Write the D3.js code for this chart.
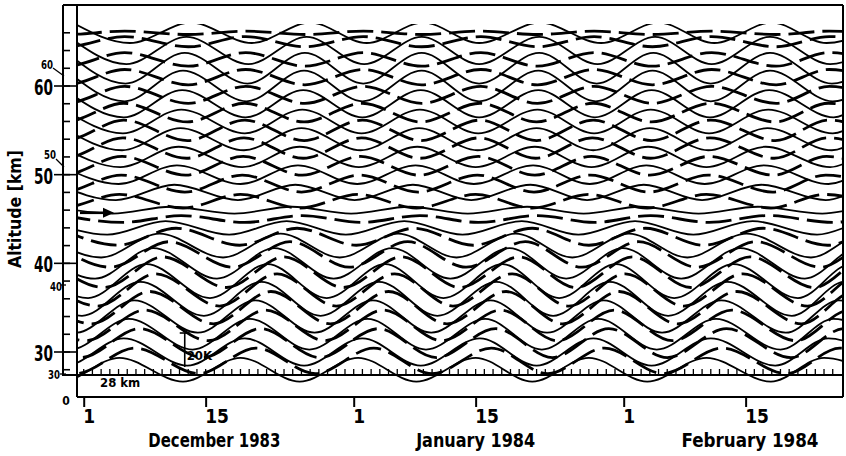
<!DOCTYPE html>
<html><head><meta charset="utf-8">
<script src="https://cdn.jsdelivr.net/npm/d3@7"></script>
<style>
body{margin:0;background:#fff}
svg{display:block}
text{font-family:"DejaVu Sans Condensed","DejaVu Sans",sans-serif;fill:#000;font-weight:bold}
</style>
</head><body>
<svg id="chart" width="846" height="456"></svg>
<script>
// ---------------- data ----------------
const solidAltitudes = [28,30,32,34,36,38,40,42,44,46,48,50,52,54,56,58,60,62,64,66];
const solidAmplitudesK = [7,8,9,9.5,10,10,9,7,4,2,4.5,5.5,6,6.5,7,8,9,9,8,6];
// days after 1 Dec 1983 of successive crests / troughs (first entry is a crest)
const solidExtremumDays = [
 [-9.3,-2.6,4.1,11.4,18.0,24.8,31.5,38.2,45.0,51.5,58.0,64.7,71.5,78.9,85.0,92.0],
 [-8.8,-2.1,4.6,11.9,18.5,25.3,32.0,38.7,45.5,52.0,58.5,65.2,72.0,79.4,85.5,92.5],
 [-8.2,-1.5,5.2,12.5,19.1,25.9,32.6,39.3,46.1,52.6,59.1,65.8,72.6,80.0,86.1,93.1],
 [-7.6,-0.9,5.8,13.1,19.7,26.5,33.2,39.9,46.7,53.2,59.7,66.4,73.2,80.6,86.7,93.7],
 [-6.9,-0.2,6.5,13.8,20.4,27.2,33.9,40.6,47.4,53.9,60.4,67.1,73.9,81.3,87.4,94.4],
 [-6.2,0.5,7.2,14.5,21.1,27.9,34.6,41.3,48.1,54.6,61.1,67.8,74.6,82.0,88.1,95.1],
 [-5.4,1.3,8.0,15.3,21.9,28.7,35.4,42.1,48.9,55.4,61.9,68.6,75.4,82.8,88.9,95.9],
 [-4.7,2.0,8.7,16.0,22.6,29.4,36.1,42.8,49.6,56.1,62.6,69.3,76.1,83.5,89.6,96.6],
 [-4.0,2.7,9.4,16.7,23.3,30.1,36.8,43.5,50.3,56.8,63.3,70.0,76.8,84.2,90.3,97.3],
 [-3.4,3.3,10.0,17.3,23.9,30.7,37.4,44.1,50.9,57.4,63.9,70.6,77.4,84.8,90.9,97.9],
 [-3.0,3.7,10.4,17.7,24.3,31.1,37.8,44.5,51.3,57.8,64.3,71.0,77.8,85.2,91.3,98.3],
 [-2.7,4.0,10.7,18.0,24.6,31.4,38.1,44.8,51.6,58.1,64.6,71.3,78.1,85.5,91.6,98.6],
 [-2.5,4.2,10.9,18.2,24.8,31.6,38.3,45.0,51.8,58.3,64.8,71.5,78.3,85.7,91.8,98.8],
 [-2.3,4.4,11.1,18.4,25.0,31.8,38.5,45.2,52.0,58.5,65.0,71.7,78.5,85.9,92.0,99.0],
 [-2.2,4.5,11.2,18.5,25.1,31.9,38.6,45.3,52.1,58.6,65.1,71.8,78.6,86.0,92.1,99.1],
 [-2.1,4.6,11.3,18.6,25.2,32.0,38.7,45.4,52.2,58.7,65.2,71.9,78.7,86.1,92.2,99.2],
 [-2.0,4.7,11.4,18.7,25.3,32.0,38.8,45.4,52.2,58.8,65.3,72.0,78.8,86.0,92.2],
 [-1.9,4.8,11.6,18.8,25.4,32.1,38.8,45.4,52.3,58.9,65.4,72.0,78.8,85.9,92.1],
 [-1.7,4.9,11.8,18.9,25.6,32.2,38.8,45.4,52.3,59.0,65.6,72.1,78.8,85.7,92.1],
 [-1.3,5.3,12.3,19.3,26.0,32.5,39.0,45.4,52.4,59.4,66.0,72.4,79.0,85.3,92.0]
];
const dashedAltitudes = [29,31,33,35,37,39,41,43,45,47,49,51,53,55,57,59,61,63,65,66];
const dashedAmplitudesK = [7.5,8.5,9,9.5,9.5,9,7.5,5,2,4,5,5.5,6,6,5.5,5,4.5,4,3,1];
const dashedExtremumDays = [
 [-7.6,-0.9,5.9,13.2,19.8,26.6,33.3,40.0,46.8,53.3,59.8,66.5,73.3,80.7,86.8,93.8],
 [-7.0,-0.3,6.4,13.7,20.3,27.1,33.8,40.5,47.3,53.8,60.3,67.0,73.8,81.2,87.3,94.3],
 [-6.4,0.3,7.0,14.3,20.9,27.7,34.4,41.1,47.9,54.4,60.9,67.6,74.4,81.8,87.9,94.9],
 [-5.8,0.9,7.6,14.9,21.5,28.3,35.0,41.7,48.5,55.0,61.5,68.2,75.0,82.4,88.5,95.5],
 [-5.1,1.6,8.3,15.6,22.2,29.0,35.7,42.4,49.2,55.7,62.2,68.9,75.7,83.1,89.2,96.2],
 [-4.3,2.4,9.1,16.4,23.0,29.8,36.5,43.2,50.0,56.5,63.0,69.7,76.5,83.9,90.0,97.0],
 [-3.6,3.1,9.8,17.1,23.7,30.5,37.2,43.9,50.7,57.2,63.7,70.4,77.2,84.6,90.7,97.7],
 [-2.8,3.9,10.6,17.9,24.5,31.3,38.0,44.7,51.5,58.0,64.5,71.2,78.0,85.4,91.5,98.5],
 [-2.2,4.5,11.2,18.5,25.1,31.9,38.6,45.3,52.1,58.6,65.1,71.8,78.6,86.0,92.1,99.1],
 [-9.3,-2.6,4.1,11.4,18.0,24.8,31.5,38.2,45.0,51.5,58.0,64.7,71.5,78.9,85.0,92.0],
 [-9.1,-2.4,4.3,11.6,18.2,25.0,31.7,38.4,45.2,51.7,58.2,64.9,71.7,79.1,85.2,92.2],
 [-9.0,-2.3,4.4,11.7,18.3,25.1,31.8,38.5,45.3,51.8,58.3,65.0,71.8,79.2,85.3,92.3],
 [-8.9,-2.2,4.5,11.8,18.4,25.2,31.9,38.6,45.4,51.9,58.4,65.1,71.9,79.3,85.4,92.4],
 [-8.8,-2.1,4.6,11.9,18.5,25.3,32.0,38.7,45.5,52.0,58.5,65.2,72.0,79.4,85.5,92.5],
 [-8.8,-2.1,4.6,11.9,18.5,25.3,32.0,38.7,45.5,52.0,58.5,65.2,72.0,79.4,85.5,92.5],
 [-8.7,-2.0,4.7,12.0,18.6,25.4,32.1,38.8,45.6,52.1,58.6,65.3,72.1,79.5,85.6,92.6],
 [-8.7,-2.0,4.7,12.0,18.6,25.4,32.1,38.8,45.6,52.1,58.6,65.3,72.1,79.5,85.6,92.6],
 [-8.7,-2.0,4.7,12.0,18.6,25.4,32.1,38.8,45.6,52.1,58.6,65.3,72.1,79.5,85.6,92.6],
 [-8.7,-2.0,4.7,12.0,18.6,25.4,32.1,38.8,45.6,52.1,58.6,65.3,72.1,79.5,85.6,92.6],
 [-8.7,-2.0,4.7,12.0,18.6,25.4,32.1,38.8,45.6,52.1,58.6,65.3,72.1,79.5,85.6,92.6]
];
const dateTicks = ["1983-12-01","1983-12-15","1984-01-01","1984-01-15","1984-02-01","1984-02-15"];
const dateTickLabels = ["1","15","1","15","1","15"];
const monthLabels = ["December 1983","January 1984","February 1984"];
const monthLabelDates = ["1983-12-16","1984-01-15","1984-02-15T12:00"];
const altitudeTicks = [30,40,50,60];
const scaleBarK = 20;

// ---------------- scales ----------------
const svg = d3.select("#chart");
const DAY = 864e5;
const t0 = Date.UTC(1983,11,1);
const x = d3.scaleUtc().domain([new Date(t0-0.77*DAY), new Date(t0+87.18*DAY)]).range([77,843]);
const xDay = d => x(new Date(t0 + d*DAY));
const yAlt = d3.scaleLinear().domain([30,60]).range([352,86]);
const kScale = d3.scaleLinear().domain([0,20]).range([0,34]);

// ---------------- traces ----------------
svg.append("clipPath").attr("id","plotclip").append("rect")
  .attr("x",77).attr("y",24).attr("width",766).attr("height",372);
const line = d3.line().x(p=>xDay(p.day)).y(p=>p.y).curve(d3.curveMonotoneX);
const traces = svg.append("g").attr("clip-path","url(#plotclip)");
function addTraces(alts, amps, days, dashed){
  alts.forEach((alt,i)=>{
    const pts = days[i].map((d,j)=>({day:d, y: yAlt(alt) - (j%2===0?1:-1)*kScale(amps[i])}));
    traces.append("path").attr("d", line(pts)).attr("fill","none").attr("stroke","#000")
      .attr("stroke-width", dashed?2.8:1.8)
      .attr("stroke-dasharray", dashed?"26,8":null)
      .attr("stroke-linecap","butt");
  });
}
addTraces(solidAltitudes, solidAmplitudesK, solidExtremumDays, false);
addTraces(dashedAltitudes, dashedAmplitudesK, dashedExtremumDays, true);

// ---------------- frame ----------------
const frame = svg.append("g").attr("stroke","#000").attr("fill","none");
frame.append("line").attr("x1",63).attr("x2",843).attr("y1",5).attr("y2",5).attr("stroke-width",2);
frame.append("line").attr("x1",63).attr("x2",63).attr("y1",5).attr("y2",376).attr("stroke-width",2);
frame.append("line").attr("x1",77).attr("x2",77).attr("y1",5).attr("y2",397).attr("stroke-width",2);
frame.append("line").attr("x1",843).attr("x2",843).attr("y1",5).attr("y2",397).attr("stroke-width",2);
frame.append("line").attr("x1",77).attr("x2",843).attr("y1",397).attr("y2",397).attr("stroke-width",2);
// baseline with daily ticks
frame.append("line").attr("x1",63).attr("x2",843).attr("y1",375).attr("y2",375).attr("stroke-width",2);
const dailyTicks = d3.utcDay.range(new Date(t0-0.5*DAY), new Date(t0+87*DAY));
frame.selectAll(".dtick").data(dailyTicks).join("line")
  .attr("x1",d=>x(d)).attr("x2",d=>x(d)).attr("y1",375).attr("y2",369).attr("stroke-width",1.3);

// x axis (bottom)
const xAxis = d3.axisBottom(x).tickValues(dateTicks.map(s=>new Date(s+"T00:00Z")))
  .tickFormat((d,i)=>dateTickLabels[i]).tickSize(10).tickSizeOuter(0);
const gx = svg.append("g").attr("transform","translate(0,397)").call(xAxis);
gx.select(".domain").remove();
gx.selectAll(".tick line").attr("stroke","#000").attr("stroke-width",2);
gx.selectAll(".tick text").attr("font-size",19).attr("dy","0.7em").attr("text-anchor","start").attr("dx","-1")
  .attr("font-family",'"DejaVu Sans Condensed","DejaVu Sans",sans-serif').attr("font-weight","bold");
const monthWidths = [132,119,137];
svg.selectAll(".month").data(monthLabels).join("text")
  .attr("x",(d,i)=>x(new Date(monthLabelDates[i]+(monthLabelDates[i].includes("T")?"Z":"T00:00Z"))))
  .attr("y",447).attr("text-anchor","middle").attr("font-size",19)
  .attr("textLength",(d,i)=>monthWidths[i]).attr("lengthAdjust","spacingAndGlyphs").text(d=>d);

// y axis (left): altitude labels
svg.selectAll(".ytick").data(altitudeTicks).join("line")
  .attr("x1",54).attr("x2",77).attr("y1",d=>yAlt(d)).attr("y2",d=>yAlt(d))
  .attr("stroke","#000").attr("stroke-width",1.6);
svg.selectAll(".ylab").data(altitudeTicks).join("text")
  .attr("x",53).attr("y",d=>yAlt(d)+9).attr("text-anchor","end").attr("font-size",22)
  .attr("textLength",19).attr("lengthAdjust","spacingAndGlyphs").text(d=>d);
// trace reference ticks
svg.selectAll(".rtick").data(solidAltitudes).join("line")
  .attr("x1",63).attr("x2",70).attr("y1",d=>yAlt(d)).attr("y2",d=>yAlt(d))
  .attr("stroke","#000").attr("stroke-width",1.6);
// small reference labels
const smallLabels = [{t:"60",x:53,y:69,lx:[53,64],ly:[68,76]},{t:"50",x:56,y:159,lx:[56,64],ly:[159,167]},
  {t:"40",x:62,y:291,lx:[61,66],ly:[285,285]},{t:"30",x:60,y:379,lx:[60,66],ly:[374,374]}];
smallLabels.forEach(s=>{
  svg.append("text").attr("x",s.x).attr("y",s.y).attr("text-anchor","end").attr("font-size",12)
    .attr("textLength",12).attr("lengthAdjust","spacingAndGlyphs").text(s.t);
  svg.append("line").attr("x1",s.lx[0]).attr("x2",s.lx[1]).attr("y1",s.ly[0]).attr("y2",s.ly[1])
    .attr("stroke","#000").attr("stroke-width",1.3);
});
svg.append("text").attr("x",66).attr("y",405).attr("text-anchor","middle").attr("font-size",12).text("0");
svg.append("text").attr("transform","translate(21,209) rotate(-90)").attr("text-anchor","middle")
  .attr("font-size",18).attr("textLength",118).attr("lengthAdjust","spacingAndGlyphs").text("Altitude [km]");

// annotations
svg.append("text").attr("x",100).attr("y",387).attr("font-size",13).text("28 km");
const barX = xDay(11.6), barTop = 333;
svg.append("line").attr("x1",barX).attr("x2",barX).attr("y1",barTop).attr("y2",barTop+kScale(scaleBarK))
  .attr("stroke","#000").attr("stroke-width",1.6);
svg.append("line").attr("x1",barX-5).attr("x2",barX+5).attr("y1",barTop).attr("y2",barTop)
  .attr("stroke","#000").attr("stroke-width",1.6);
svg.append("text").attr("x",barX+2).attr("y",360).attr("font-size",13).text("20K");
// arrow at 45 km
const ay = yAlt(45.7);
svg.append("line").attr("x1",80).attr("x2",104).attr("y1",ay).attr("y2",ay).attr("stroke","#000").attr("stroke-width",2.6);
svg.append("path").attr("d",`M103,${ay-5}L114,${ay}L103,${ay+5}Z`).attr("fill","#000");
</script>
</body></html>
